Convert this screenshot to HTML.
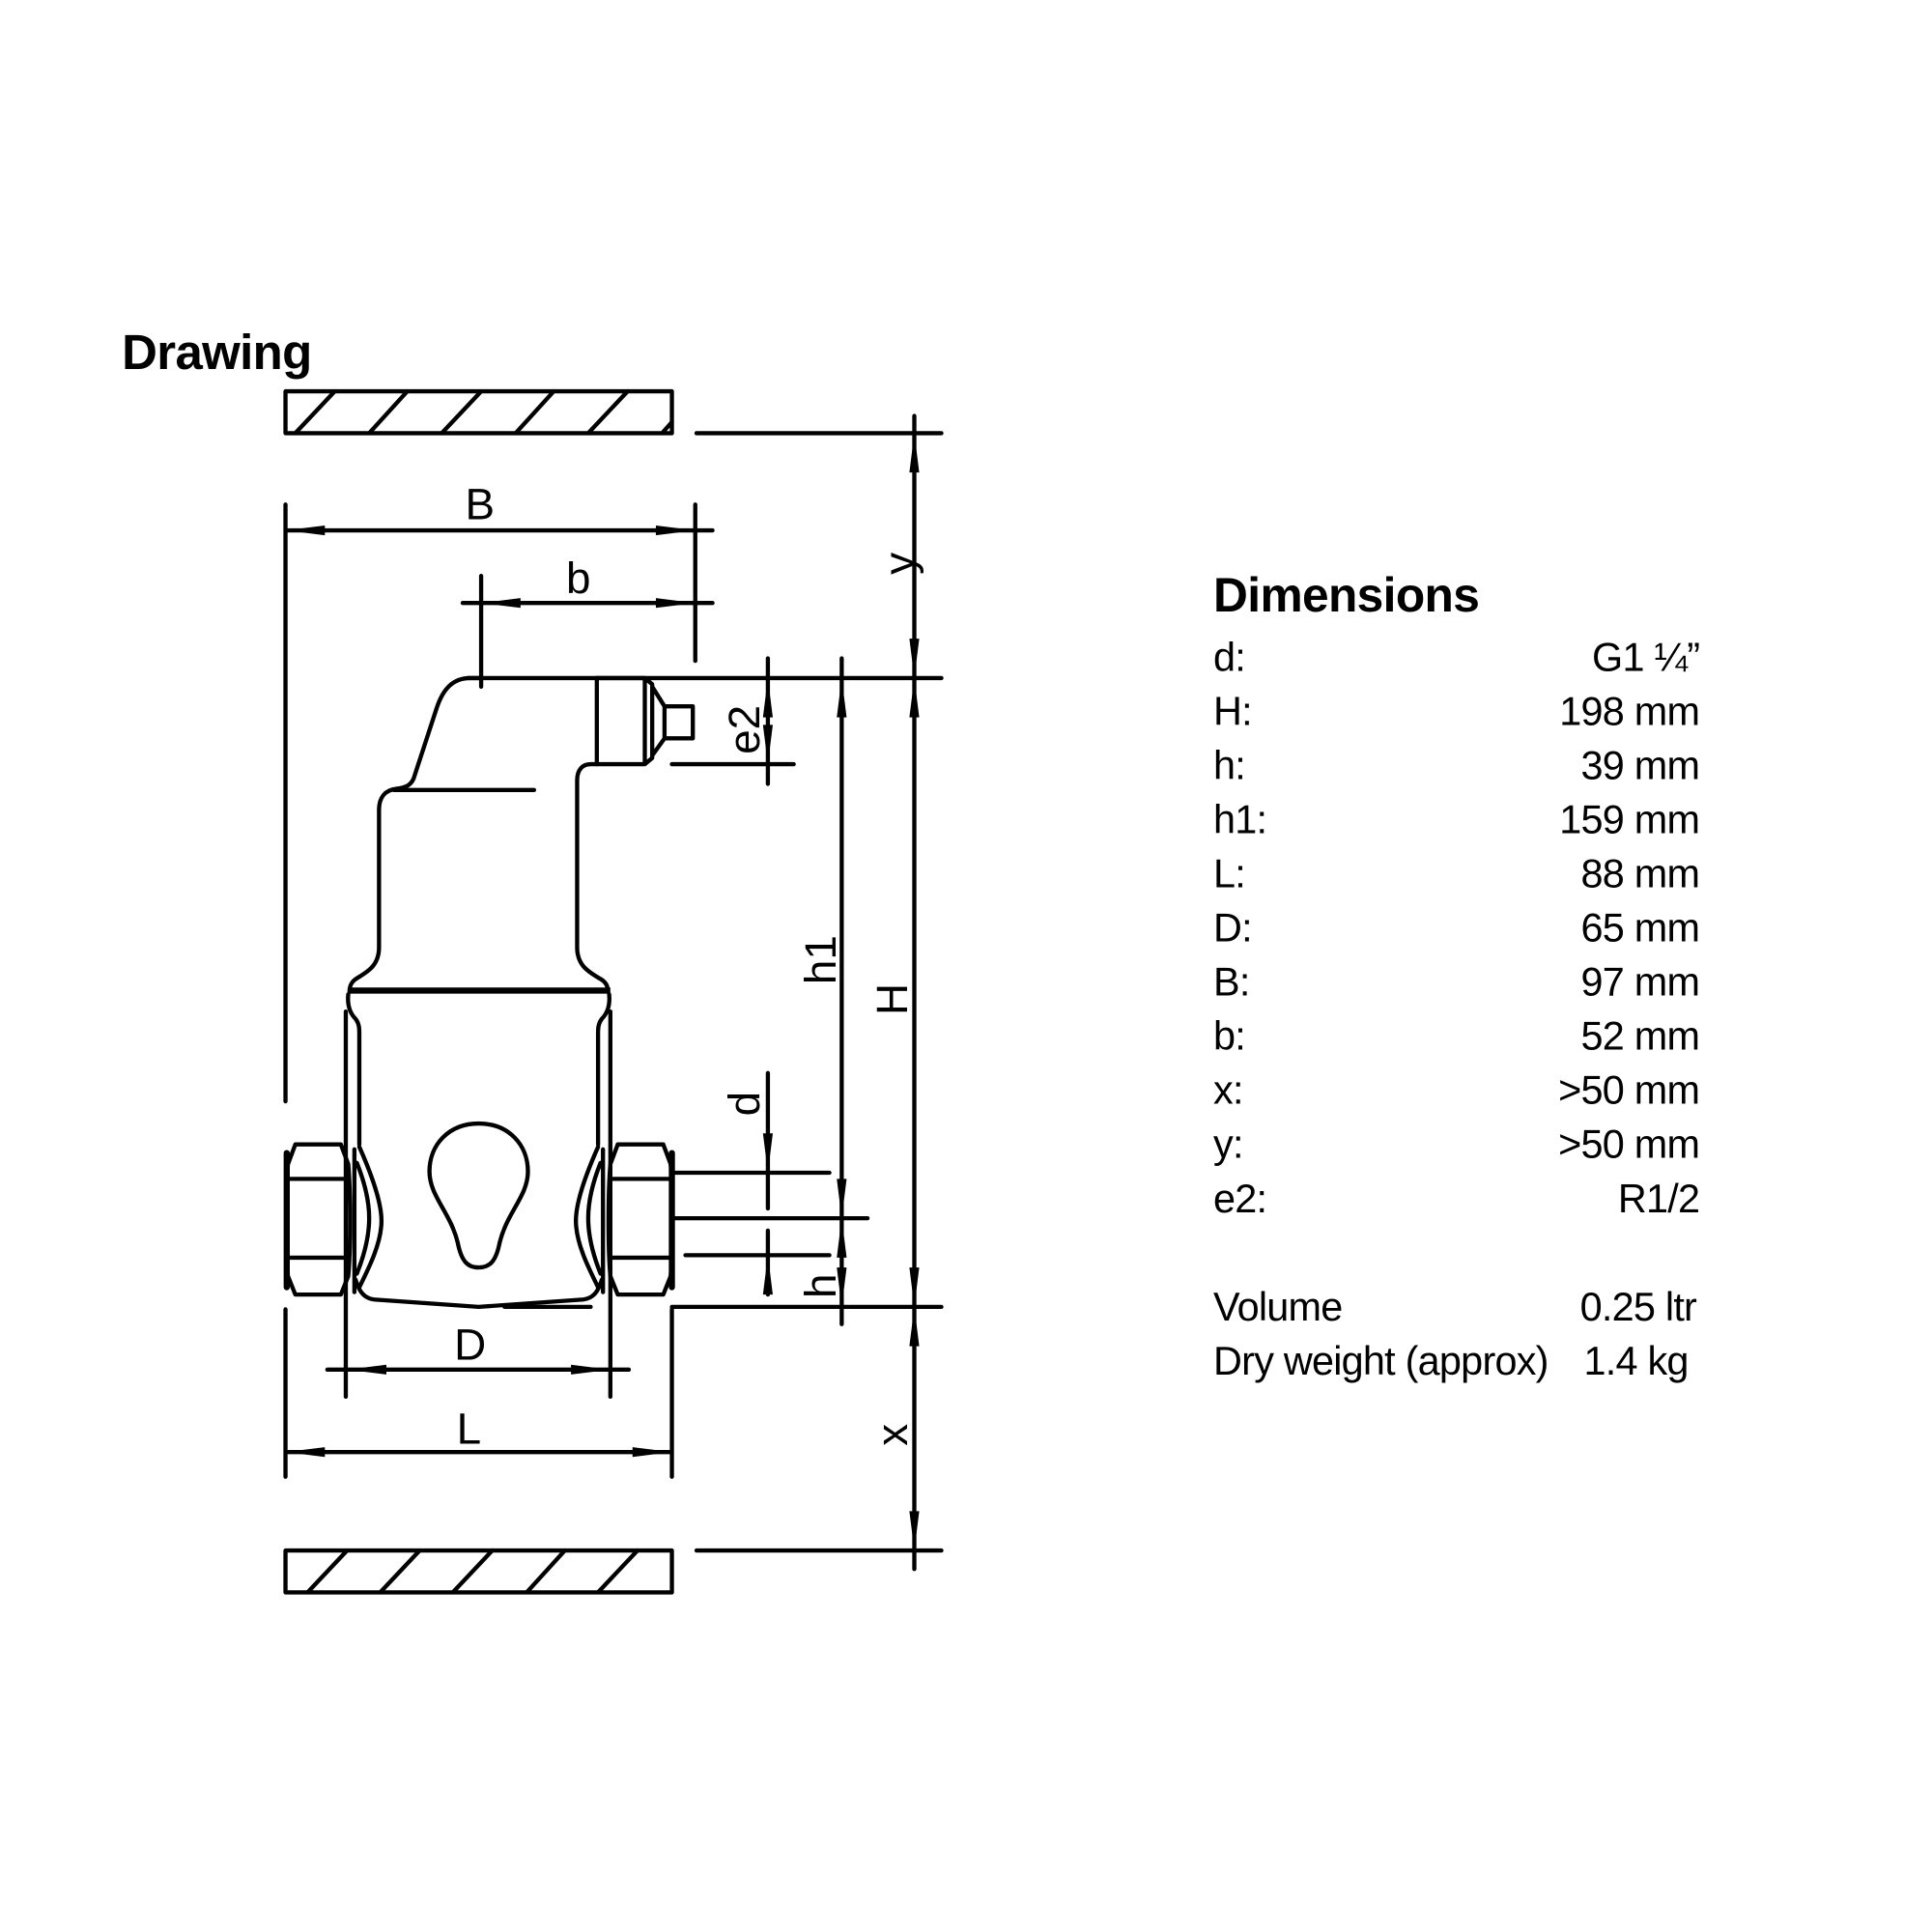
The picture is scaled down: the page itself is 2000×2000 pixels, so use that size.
<!DOCTYPE html>
<html><head><meta charset="utf-8"><style>
html,body{margin:0;padding:0;background:#fff;}
svg{display:block;}
text{font-family:"Liberation Sans",Arial,sans-serif;fill:#000;}
</style></head><body>
<svg width="2000" height="2000" viewBox="0 0 1570 1570" xmlns="http://www.w3.org/2000/svg">
<g fill="none" stroke="#000" stroke-width="3.4" stroke-linecap="round" stroke-linejoin="round">
<rect x="232" y="318" width="314" height="34"/>
<path d="M240,352 L272,318 M300,352 L331,318 M359,352 L391,318 M419,352 L450,318 M478,352 L510,318 M538,352 L546,343"/>
<rect x="232" y="1260" width="314" height="34"/>
<path d="M250,1294 L282,1260 M309,1294 L341,1260 M368,1294 L400,1260 M428,1294 L459,1260 M486,1294 L518,1260"/>
<path d="M566,352 H765 M380,551 H765 M546,1062 H765 M566,1260 H765 M410,1062 H480"/>
<path d="M546,621 H645 M546,990 H705 M546,953 H674 M557,1020 H674"/>
<path d="M743,338 V1275 M684,535 V1076 M624,535 V637 M624,872 V982 M624,1000 V1052"/>
<path d="M232,410 V895 M565,410 V537 M232,431 H579 M391,468 V558 M376,490 H579"/>
<path d="M281,822 V1135 M496,822 V1135 M266,1113 H511 M232,1064 V1200 M546,1064 V1200 M232,1180 H546"/>
<path d="M391,551 H382 C368,551 360,560 355,575 L337,630 C335,638 330,640 322,641 C313,642 308,648 308,658 V770 C308,785 298,790 290,795 C285,798 284,802 284,806"/>
<path d="M320,642 H434"/>
<path d="M485,551 V621 H480 C473,621 469,626 469,634 V770 C469,785 479,790 487,795 C493,798 494,802 494,806"/>
<path d="M485,551 H524 V621 H485 M524,551 L530,556 L530,616 L524,621 M530,558 L540,574 M530,614 L540,600 M540,574 H563 V600 H540 Z"/>
<path d="M283,808 C282,818 285,824 289,828 C292,832 292,836 292,840 V930"/>
<path d="M495,808 C496,818 493,824 489,828 C486,832 486,836 486,840 V930"/>
<path d="M289,1040 C292,1050 296,1055 304,1056 L389,1062 L474,1056 C482,1055 486,1050 489,1040"/>
<path d="M292,932 C300,950 310,975 310,992 C310,1010 300,1030 292,1046"/>
<path d="M290,945 C296,960 300,975 300,990 C300,1005 296,1020 290,1035"/>
<path d="M486,932 C478,950 468,975 468,992 C468,1010 478,1030 486,1046"/>
<path d="M488,945 C482,960 478,975 478,990 C478,1005 482,1020 488,1035"/>
<path d="M288,934 V1050 M490,934 V1050"/>
<path d="M240,930 H277 L283,946 C285,970 285,1015 283,1037 L277,1052 H240 L234,1037 C232,1015 232,970 234,946 Z M236,958 H282 M236,1022 H282"/>
<path d="M502,930 H539 L545,946 C547,970 547,1015 545,1037 L539,1052 H502 L496,1037 C494,1015 494,970 496,946 Z M498,958 H544 M498,1022 H544"/>
<path d="M233,937 V1046 M546,937 V1046" stroke-width="5"/>
<path d="M389,913 C365,913 349,930 349,952 C349,972 366,985 372,1010 C375,1025 380,1030 389,1030 C398,1030 403,1025 406,1010 C412,985 429,972 429,952 C429,930 413,913 389,913 Z"/>
</g>
<path d="M284,805 H496" stroke="#000" stroke-width="5"/>
<g fill="#000" stroke="none">
<polygon points="232,431 264,427 264,435"/><polygon points="565,431 533,427 533,435"/>
<polygon points="391,490 423,486 423,494"/><polygon points="565,490 533,486 533,494"/>
<polygon points="282,1113 314,1109 314,1117"/><polygon points="496,1113 464,1109 464,1117"/>
<polygon points="232,1180 264,1176 264,1184"/><polygon points="546,1180 514,1176 514,1184"/>
<polygon points="743,352 739,384 747,384"/><polygon points="743,551 739,519 747,519"/>
<polygon points="743,551 739,583 747,583"/><polygon points="743,1062 739,1030 747,1030"/>
<polygon points="743,1062 739,1094 747,1094"/><polygon points="743,1260 739,1228 747,1228"/>
<polygon points="684,551 680,583 688,583"/><polygon points="684,990 680,958 688,958"/>
<polygon points="684,990 680,1022 688,1022"/><polygon points="684,1062 680,1030 688,1030"/>
<polygon points="624,551 620,583 628,583"/><polygon points="624,621 620,589 628,589"/>
<polygon points="624,953 620,921 628,921"/><polygon points="624,1020 620,1052 628,1052"/>
</g>
<text x="99" y="300" font-size="40" font-weight="bold" letter-spacing="-0.5">Drawing</text>
<g font-size="36" text-anchor="middle">
<text x="390" y="422">B</text>
<text x="470" y="482">b</text>
<text x="382" y="1105">D</text>
<text x="381" y="1173">L</text>
<text transform="translate(743,458) rotate(-90)">y</text>
<text transform="translate(737,812) rotate(-90)">H</text>
<text transform="translate(737,1166) rotate(-90)">x</text>
<text transform="translate(679,780) rotate(-90)">h1</text>
<text transform="translate(679,1045) rotate(-90)">h</text>
<text transform="translate(617,593) rotate(-90)">e2</text>
<text transform="translate(617,897) rotate(-90)">d</text>
</g>
<text x="986" y="497" font-size="39" font-weight="bold" letter-spacing="-0.5">Dimensions</text>
<g font-size="32.5" letter-spacing="-0.6">
<text x="986" y="545">d:</text><text x="1381" y="545" text-anchor="end">G1 ¼”</text>
<text x="986" y="589">H:</text><text x="1381" y="589" text-anchor="end">198 mm</text>
<text x="986" y="633">h:</text><text x="1381" y="633" text-anchor="end">39 mm</text>
<text x="986" y="677">h1:</text><text x="1381" y="677" text-anchor="end">159 mm</text>
<text x="986" y="721">L:</text><text x="1381" y="721" text-anchor="end">88 mm</text>
<text x="986" y="765">D:</text><text x="1381" y="765" text-anchor="end">65 mm</text>
<text x="986" y="809">B:</text><text x="1381" y="809" text-anchor="end">97 mm</text>
<text x="986" y="853">b:</text><text x="1381" y="853" text-anchor="end">52 mm</text>
<text x="986" y="897">x:</text><text x="1381" y="897" text-anchor="end">&gt;50 mm</text>
<text x="986" y="941">y:</text><text x="1381" y="941" text-anchor="end">&gt;50 mm</text>
<text x="986" y="985">e2:</text><text x="1381" y="985" text-anchor="end">R1/2</text>
<text x="986" y="1073">Volume</text><text x="1284" y="1073">0.25 ltr</text>
<text x="986" y="1117">Dry weight (approx)</text><text x="1287" y="1117">1.4 kg</text>
</g>
</svg>
</body></html>
